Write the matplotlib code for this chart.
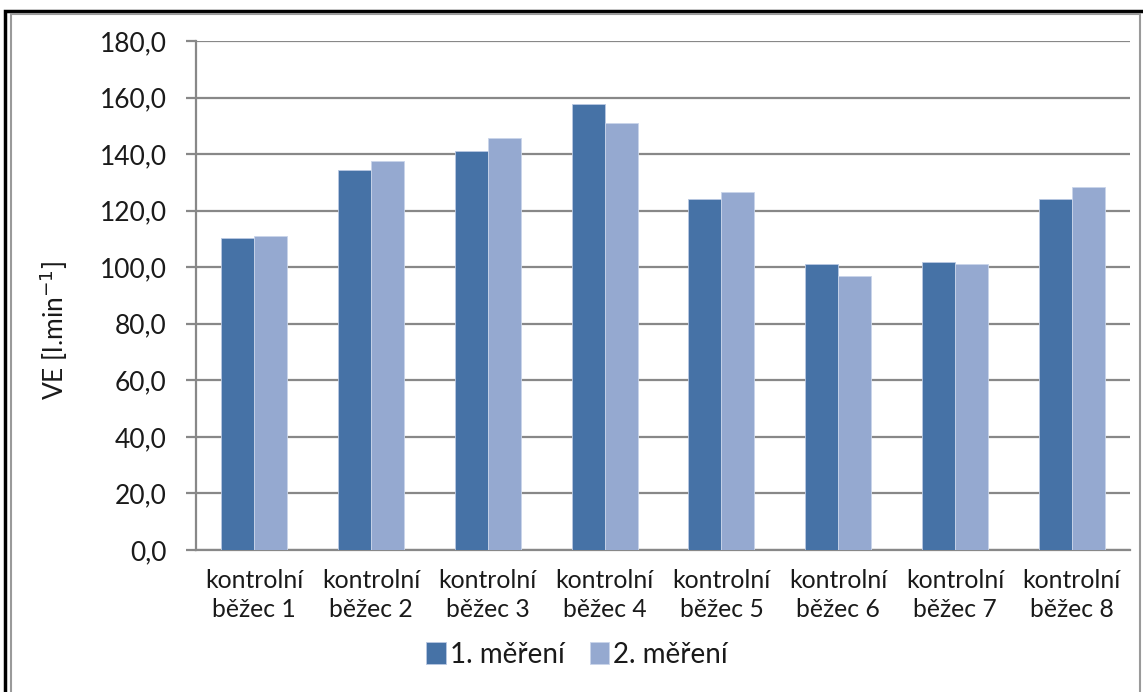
"""VE per control runner, two measurements -> out.png"""

import matplotlib

matplotlib.use("Agg")
import matplotlib.pyplot as plt
from matplotlib.patches import Rectangle
from matplotlib.ticker import FuncFormatter, MultipleLocator

plt.rcParams["font.family"] = ["Lato", "DejaVu Sans"]

categories = [f"kontrolní\nběžec {i}" for i in range(1, 9)]
series_names = ["1. měření", "2. měření"]
mereni_1 = [110.2, 134.3, 141.0, 157.6, 124.3, 101.0, 101.8, 124.3]
mereni_2 = [111.0, 137.6, 145.8, 150.9, 126.7, 96.8, 101.0, 128.4]

DARK = "#4672a6"
LIGHT = "#95a9d0"
GRID = "#888888"
TEXT = "#1a1a1a"

W, H, DPI = 1143, 692, 100
fig = plt.figure(figsize=(W / DPI, H / DPI), dpi=DPI)

# plot area in pixel coords (left, top, right, bottom)
x0, y0, x1, y1 = 196, 41, 1130, 550
ax = fig.add_axes([x0 / W, 1 - y1 / H, (x1 - x0) / W, (y1 - y0) / H])

bw = 0.283
xs = range(len(categories))
ax.bar([x - bw / 2 for x in xs], mereni_1, width=bw, color=DARK,
       edgecolor="#b9c8e2", linewidth=0.6, label=series_names[0], zorder=3)
ax.bar([x + bw / 2 for x in xs], mereni_2, width=bw, color=LIGHT,
       edgecolor="#c9d5ea", linewidth=0.6, label=series_names[1], zorder=3)

ax.set_xlim(-0.5, len(categories) - 0.5)
ax.set_ylim(0, 180)
ax.yaxis.set_major_locator(MultipleLocator(20))
ax.yaxis.set_major_formatter(FuncFormatter(lambda v, _: f"{v:.1f}".replace(".", ",")))
ax.grid(axis="y", color=GRID, linewidth=1.6, zorder=0)

ax.set_xticks(list(xs))
ax.set_xticklabels(categories, fontsize=17.8, color=TEXT, linespacing=1.3)
ax.tick_params(axis="x", length=0, pad=14)
ax.tick_params(axis="y", length=7, width=1.6, color=GRID, labelsize=19,
               labelcolor=TEXT, pad=14)

for side in ("top", "right"):
    ax.spines[side].set_visible(False)
for side in ("left", "bottom"):
    ax.spines[side].set_color(GRID)
    ax.spines[side].set_linewidth(1.6)

fig.text(54 / W, 1 - 330 / H, "VE [l.min$^{-1}$]", rotation=90, fontsize=19,
         color=TEXT, ha="center", va="center")

fig.legend(loc="center", bbox_to_anchor=(577 / W, 1 - 655 / H), ncol=2,
           frameon=False, fontsize=20, handlelength=0.7, handleheight=0.85,
           handletextpad=0.15, columnspacing=0.9, labelcolor=TEXT)

# double frame around the chart, running off the right and bottom edges
fig.patches.append(Rectangle((5 / W, -0.1), 1.2, 1 - 9 / H + 0.1 - 1.5 / H,
                             transform=fig.transFigure, fill=False,
                             edgecolor="black", linewidth=2.5))
fig.patches.append(Rectangle((10.5 / W, -0.1), (1139.5 - 10.5) / W, 1 - 13.5 / H + 0.1,
                             transform=fig.transFigure, fill=False,
                             edgecolor="#9a9a9a", linewidth=1.5))

fig.savefig("out.png", dpi=DPI)
